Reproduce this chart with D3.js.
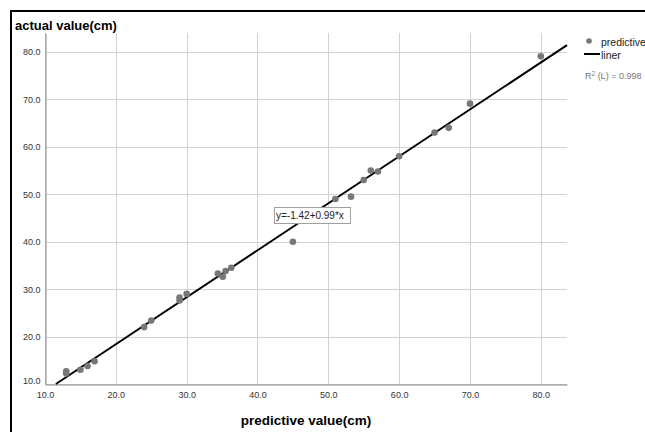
<!DOCTYPE html>
<html>
<head>
<meta charset="utf-8">
<script src="https://cdn.jsdelivr.net/npm/d3@7"></script>
<style>
  body { margin: 0; background: #fff; }
  svg { display: block; font-family: "Liberation Sans", Arial, sans-serif; }
</style>
</head>
<body>
<div id="chart"></div>
<script>
// predictive value (x) vs actual value (y)
var predictive = [13, 13, 15, 16, 17, 24, 25, 29, 29, 30, 34.4, 35.1, 35.5, 36.3, 45, 51, 53.2, 55, 56, 57, 60, 65, 67, 70, 80];
var actual     = [12.2, 12.7, 13, 13.8, 14.8, 22, 23.4, 27.6, 28.2, 29, 33.3, 32.6, 33.8, 34.5, 40, 49, 49.5, 53, 55, 54.8, 58, 63, 64, 69.1, 79.1];

var xTicks = [10, 20, 30, 40, 50, 60, 70, 80];
var yTicks = [10, 20, 30, 40, 50, 60, 70, 80];

var intercept = -1.42;
var slope = 0.99;
var rSquared = 0.998;

var svgWidth = 645;
var svgHeight = 432;

var margin = { top: 33, left: 45, right: 78, bottom: 48 };

var svg = d3.select("#chart")
    .append("svg")
    .attr("width", svgWidth)
    .attr("height", svgHeight);

// outer frame
svg.append("rect")
    .attr("x", 11)
    .attr("y", 11)
    .attr("width", svgWidth + 20)
    .attr("height", svgHeight + 20)
    .attr("fill", "none")
    .attr("stroke", "#000")
    .attr("stroke-width", 2);

// scales
var xScale = d3.scaleLinear()
    .domain([10, 83.7])
    .range([margin.left, svgWidth - margin.right]);

var yScale = d3.scaleLinear()
    .domain([10, 84])
    .range([svgHeight - margin.bottom, margin.top]);

// grid lines
svg.append("g")
    .selectAll("line")
    .data(xTicks)
    .enter()
    .append("line")
    .attr("x1", d => Math.round(xScale(d)) + 0.5)
    .attr("x2", d => Math.round(xScale(d)) + 0.5)
    .attr("y1", yScale.range()[0])
    .attr("y2", yScale.range()[1])
    .attr("stroke", "#d2d2d2");

svg.append("g")
    .selectAll("line")
    .data(yTicks)
    .enter()
    .append("line")
    .attr("x1", xScale.range()[0])
    .attr("x2", xScale.range()[1])
    .attr("y1", d => Math.round(yScale(d)) + 0.5)
    .attr("y2", d => Math.round(yScale(d)) + 0.5)
    .attr("stroke", "#d2d2d2");

// axes
var bottomAxis = d3.axisBottom(xScale)
    .tickValues(xTicks)
    .tickSize(0)
    .tickPadding(7)
    .tickFormat(d3.format(".1f"));

var leftAxis = d3.axisLeft(yScale)
    .tickValues(yTicks)
    .tickSize(0)
    .tickPadding(5)
    .tickFormat(d3.format(".1f"));

var xAxisG = svg.append("g")
    .attr("transform", `translate(0, ${yScale.range()[0] + 0.5})`)
    .call(bottomAxis);

var yAxisG = svg.append("g")
    .attr("transform", `translate(${xScale.range()[0] + 0.5}, 0)`)
    .call(leftAxis);

[xAxisG, yAxisG].forEach(g => {
    g.select(".domain").attr("stroke", "#8a8a8a");
    g.selectAll("text")
        .attr("font-size", "9px")
        .attr("font-family", "'Liberation Sans', Arial, sans-serif")
        .attr("fill", "#333");
});

// 10.0 on y axis sits slightly higher
yAxisG.selectAll(".tick text").filter(d => d === 10).attr("dy", "-0.05em");

// fit line
var x0 = (yScale.domain()[0] - intercept) / slope;
var x1 = xScale.domain()[1];
var fitLine = [[x0, intercept + slope * x0], [x1, intercept + slope * x1]];

svg.append("path")
    .datum(fitLine)
    .attr("d", d3.line().x(d => xScale(d[0])).y(d => yScale(d[1])))
    .attr("fill", "none")
    .attr("stroke", "#000")
    .attr("stroke-width", 2);

// points
svg.append("g")
    .selectAll("circle")
    .data(predictive)
    .enter()
    .append("circle")
    .attr("cx", d => xScale(d))
    .attr("cy", (d, i) => yScale(actual[i]))
    .attr("r", 3.3)
    .attr("fill", "#777");

// equation label
var eqG = svg.append("g").attr("transform", "translate(274, 207)");
eqG.append("rect")
    .attr("x", 0.5)
    .attr("y", 0.5)
    .attr("width", 76)
    .attr("height", 16)
    .attr("fill", "#fff")
    .attr("stroke", "#a0a0a0");
eqG.append("text")
    .attr("x", 2)
    .attr("y", 12)
    .attr("font-size", "10px")
    .attr("fill", "#222")
    .text(`y=${intercept}+${slope}*x`);

// titles
svg.append("text")
    .attr("x", 15)
    .attr("y", 30)
    .attr("font-size", "13px")
    .attr("font-weight", "bold")
    .text("actual value(cm)");

svg.append("text")
    .attr("x", 306)
    .attr("y", 425)
    .attr("text-anchor", "middle")
    .attr("font-size", "13.5px")
    .attr("font-weight", "bold")
    .text("predictive value(cm)");

// legend
var legend = svg.append("g");
legend.append("circle")
    .attr("cx", 589)
    .attr("cy", 41)
    .attr("r", 2.8)
    .attr("fill", "#777");
legend.append("text")
    .attr("x", 601)
    .attr("y", 46)
    .attr("font-size", "10.5px")
    .attr("fill", "#222")
    .text("predictive");
legend.append("line")
    .attr("x1", 584)
    .attr("x2", 600)
    .attr("y1", 54)
    .attr("y2", 54)
    .attr("stroke", "#000")
    .attr("stroke-width", 2);
legend.append("text")
    .attr("x", 601)
    .attr("y", 59)
    .attr("font-size", "10.5px")
    .attr("fill", "#222")
    .text("liner");
var r2 = legend.append("text")
    .attr("x", 585)
    .attr("y", 79)
    .attr("font-size", "9px")
    .attr("fill", "#777");
r2.append("tspan").text("R");
r2.append("tspan").attr("font-size", "6.5px").attr("dy", "-3").text("2");
r2.append("tspan").attr("dy", "3").text(` (L) = ${rSquared}`);
</script>
</body>
</html>
